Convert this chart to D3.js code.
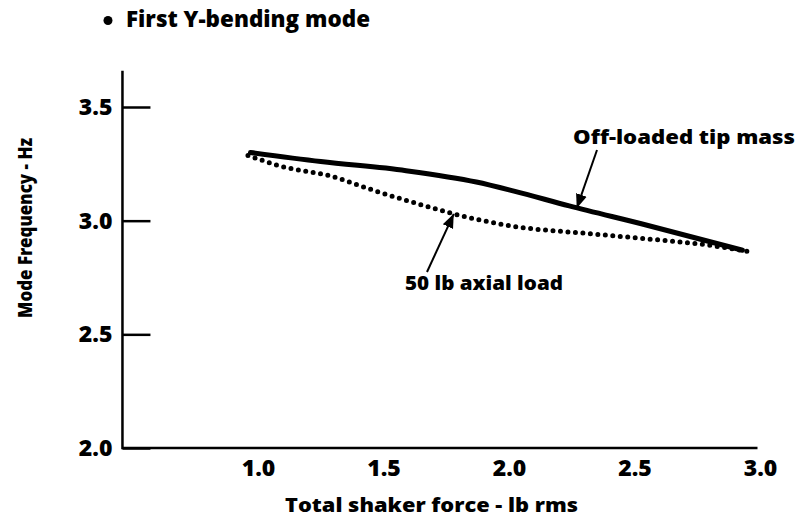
<!DOCTYPE html>
<html>
<head>
<meta charset="utf-8">
<script src="https://cdn.jsdelivr.net/npm/d3@7"></script>
<style>
  body { margin: 0; background: #fff; }
  text { font-family: "Open Sans", sans-serif; font-weight: 800; fill: #000; }
</style>
</head>
<body>
<script>
var width = 799, height = 527;

// data
var xTicks = [1.0, 1.5, 2.0, 2.5, 3.0];
var yTicks = [2.0, 2.5, 3.0, 3.5];

var tipMassX = [0.97, 1.25, 1.59, 1.87, 2.02, 2.24, 2.55, 2.93];
var tipMassY = [3.30, 3.26, 3.22, 3.17, 3.13, 3.065, 2.98, 2.87];

var axialX = [0.96, 1.09, 1.29, 1.47, 1.65, 1.78, 1.99, 2.35, 2.55, 2.81, 2.95];
var axialY = [3.287, 3.24, 3.196, 3.13, 3.07, 3.03, 2.98, 2.94, 2.92, 2.89, 2.865];

var svg = d3.select("body")
            .append("svg")
            .attr("width", width)
            .attr("height", height);

var x = d3.scaleLinear().domain([1.0, 3.0]).range([258, 760]);
var y = d3.scaleLinear().domain([2.0, 3.5]).range([448, 107]);

var xMin = 0.46, xMax = 2.99, yMax = 3.66;

// axis lines
svg.append("path")
   .attr("d", d3.line()([[x(xMin), y(yMax)], [x(xMin), y(2.0)], [x(xMax), y(2.0)]]))
   .attr("fill", "none")
   .attr("stroke", "#000")
   .attr("stroke-width", 2.5);

// y axis, ticks pointing in
var yAxis = svg.append("g")
   .attr("transform", "translate(" + x(xMin) + ",0)")
   .call(d3.axisLeft(y).tickValues(yTicks).tickFormat(d3.format(".1f"))
         .tickSizeInner(-28).tickSizeOuter(0).tickPadding(10));
yAxis.select(".domain").remove();
yAxis.selectAll("line").attr("stroke", "#000").attr("stroke-width", 2.5);
yAxis.selectAll("text").attr("font-size", 23).style("font-family", "Open Sans").style("font-weight", 800);

// x axis labels only
var xAxis = svg.append("g")
   .attr("transform", "translate(0," + y(2.0) + ")")
   .call(d3.axisBottom(x).tickValues(xTicks).tickFormat(d3.format(".1f"))
         .tickSize(0).tickPadding(12));
xAxis.select(".domain").remove();
xAxis.selectAll("text").attr("font-size", 23).style("font-family", "Open Sans").style("font-weight", 800);

var line = d3.line()
   .x(function(d) { return x(d[0]); })
   .y(function(d) { return y(d[1]); })
   .curve(d3.curveMonotoneX);

// off-loaded tip mass, solid
svg.append("path")
   .datum(d3.zip(tipMassX, tipMassY))
   .attr("d", line)
   .attr("fill", "none")
   .attr("stroke", "#000")
   .attr("stroke-width", 5)
   .attr("stroke-linecap", "round");

// 50 lb axial load, dotted
svg.append("path")
   .datum(d3.zip(axialX, axialY))
   .attr("d", line)
   .attr("fill", "none")
   .attr("stroke", "#000")
   .attr("stroke-width", 5)
   .attr("stroke-linecap", "round")
   .attr("stroke-dasharray", "0,7.5");

// arrow marker
svg.append("defs").append("marker")
   .attr("id", "arrow")
   .attr("viewBox", "0 0 10 10")
   .attr("refX", 10).attr("refY", 5)
   .attr("markerWidth", 7).attr("markerHeight", 7)
   .attr("orient", "auto")
   .append("path")
   .attr("d", "M0,1L10,5L0,9Z")
   .attr("fill", "#000");

svg.append("line")
   .attr("x1", 597).attr("y1", 150)
   .attr("x2", x(2.27)).attr("y2", y(3.055))
   .attr("stroke", "#000").attr("stroke-width", 2)
   .attr("marker-end", "url(#arrow)");

svg.append("line")
   .attr("x1", 427).attr("y1", 272)
   .attr("x2", x(1.78)).attr("y2", y(3.03))
   .attr("stroke", "#000").attr("stroke-width", 2)
   .attr("marker-end", "url(#arrow)");

svg.append("text")
   .attr("x", 573).attr("y", 144)
   .attr("font-size", 20)
   .attr("textLength", 222).attr("lengthAdjust", "spacingAndGlyphs")
   .text("Off-loaded tip mass");

svg.append("text")
   .attr("x", 405).attr("y", 290)
   .attr("font-size", 20)
   .attr("textLength", 158).attr("lengthAdjust", "spacingAndGlyphs")
   .text("50 lb axial load");

// title
svg.append("circle")
   .attr("cx", 108).attr("cy", 20.5).attr("r", 4.5)
   .attr("fill", "#000");
svg.append("text")
   .attr("x", 126).attr("y", 27)
   .attr("font-size", 22)
   .attr("textLength", 244).attr("lengthAdjust", "spacingAndGlyphs")
   .text("First Y-bending mode");

// axis titles
svg.append("text")
   .attr("x", 285).attr("y", 512)
   .attr("font-size", 20)
   .attr("textLength", 293).attr("lengthAdjust", "spacingAndGlyphs")
   .text("Total shaker force - lb rms");

svg.append("text")
   .attr("transform", "translate(32,318) rotate(-90)")
   .attr("font-size", 19)
   .attr("textLength", 180).attr("lengthAdjust", "spacingAndGlyphs")
   .text("Mode Frequency - Hz");
</script>
</body>
</html>
